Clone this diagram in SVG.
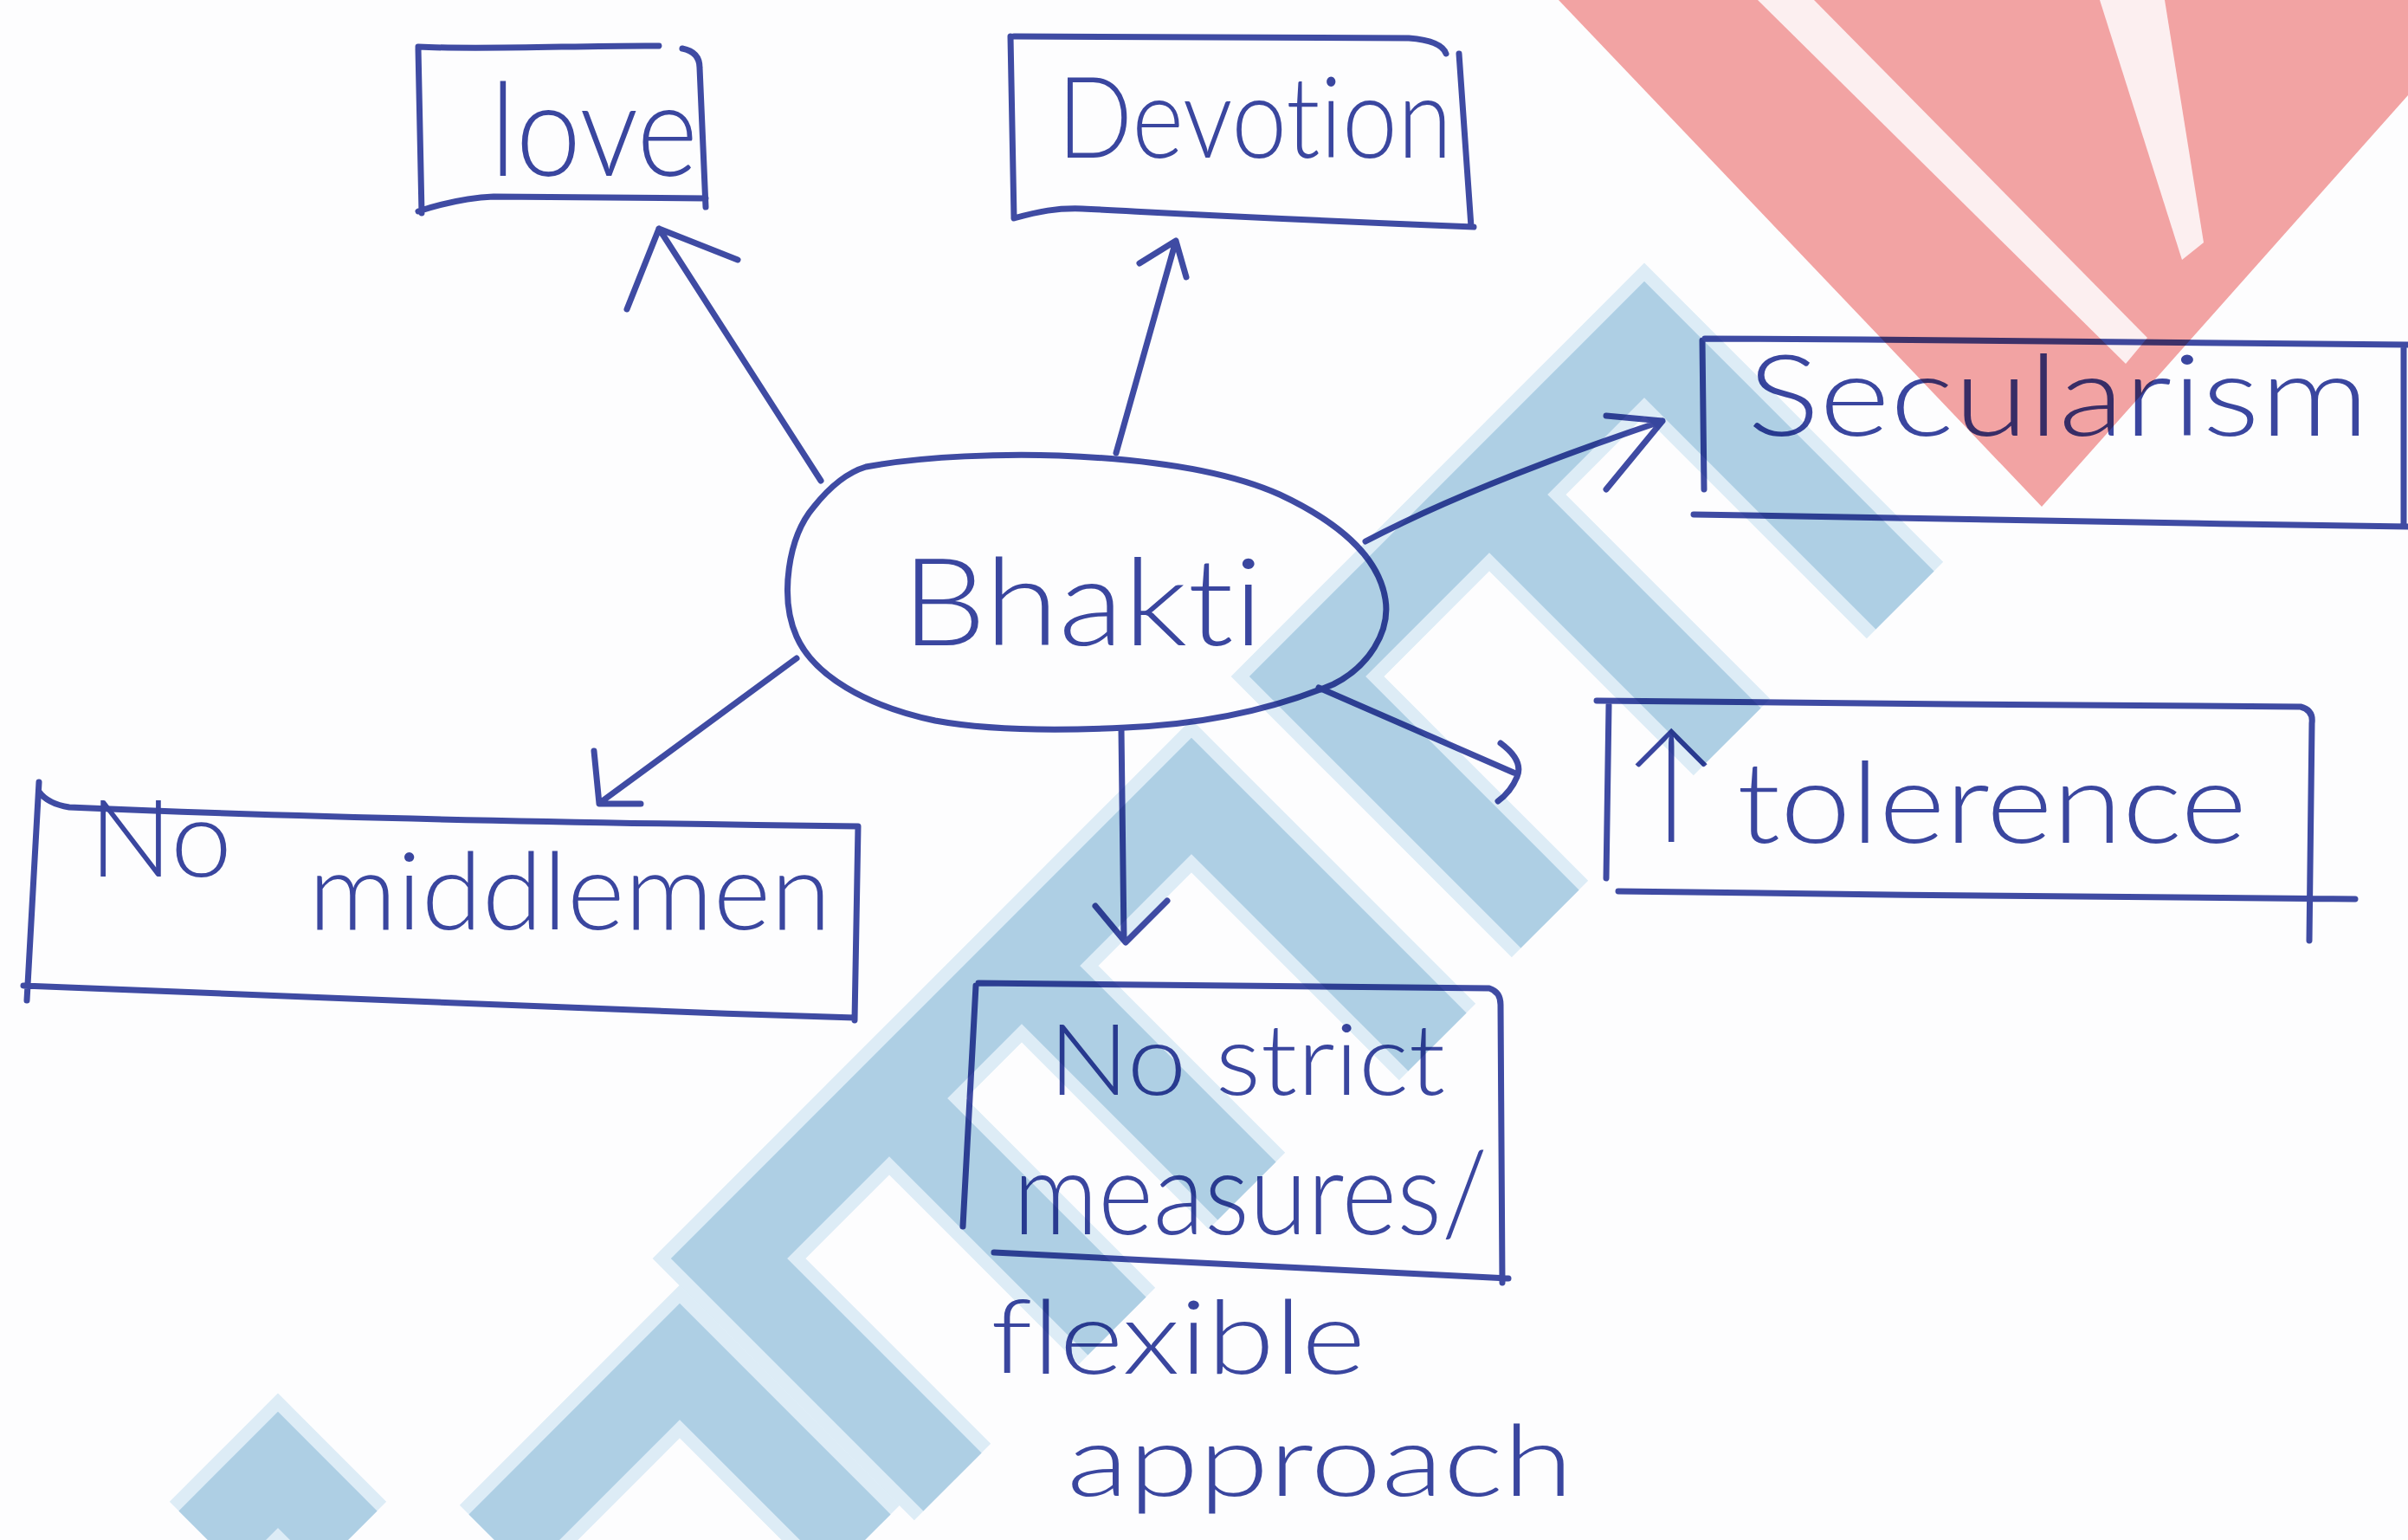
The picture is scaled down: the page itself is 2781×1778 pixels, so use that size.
<svg xmlns="http://www.w3.org/2000/svg" width="2781" height="1778" viewBox="0 0 2781 1778">
  <style>
    .ink { fill: none; stroke: #3f4ba3; stroke-width: 7; stroke-linecap: round; stroke-linejoin: round; }
    .label { font-family: Lato, "Liberation Sans", Arial, sans-serif; font-weight: 300; fill: #3a469f; font-variant-ligatures: none; }
    .band { fill: none; stroke: #a8cce3; stroke-width: 95; stroke-linejoin: miter; stroke-linecap: butt; }
    .halo { fill: none; stroke: #dcedf7; stroke-width: 125; stroke-linejoin: miter; stroke-linecap: butt; }
  </style>

  <rect x="0" y="0" width="2781" height="1778" fill="#fdfdfe"/>

  <!-- central idea -->
  <g id="node-bhakti">
    <path class="ink" d="M1000,539 C1070,526 1160,524 1223,526 C1330,530 1420,545 1478,571 C1540,600 1592,640 1600,692 C1606,730 1580,770 1540,790 C1480,815 1400,836 1300,840 C1220,844 1140,843 1080,832 C1000,815 940,780 920,735 C900,690 910,620 940,585 C960,560 980,545 1000,539 Z"/>
    <text class="label" x="1041" y="745" font-size="140" textLength="418" lengthAdjust="spacingAndGlyphs">Bhakti</text>
  </g>

  <g id="node-love">
    <path class="ink" d="M483,56 L487,246 M483,54 C560,58 680,52 761,53 M788,56 Q808,60 808,78 L815,239 M483,244 C520,232 545,228 570,227 L815,229"/>
    <text class="label" x="566" y="203" font-size="150" textLength="240" lengthAdjust="spacingAndGlyphs">love</text>
  </g>

  <g id="node-devotion">
    <path class="ink" d="M1167,42 L1171,252 M1171,42 C1350,43 1500,44 1627,44 Q1665,47 1670,62 M1685,62 L1699,262 M1171,252 C1200,244 1220,240 1250,241 C1350,246 1450,252 1702,262"/>
    <text class="label" x="1221" y="182" font-size="130" textLength="456" lengthAdjust="spacingAndGlyphs">Devotion</text>
  </g>

  <g id="node-secularism">
    <path class="ink" d="M1966,393 L1968,565 M1969,391 C2250,392 2550,396 2781,398 M2776,398 L2776,607 M1956,594 C2200,598 2500,604 2781,608"/>
    <text class="label" x="2018" y="503" font-size="130" textLength="718" lengthAdjust="spacingAndGlyphs">Secularism</text>
  </g>

  <g id="node-tolerance">
    <path class="ink" d="M1844,809 C2100,812 2400,814 2657,816 Q2672,820 2670,835 L2667,1086 M1858,814 L1855,1014 M1869,1029 C2150,1033 2450,1036 2720,1038"/>
    <text class="label" x="1874" y="955" font-size="150" font-family="'DejaVu Sans', sans-serif">↑</text>
    <text class="label" x="2006" y="973" font-size="130" textLength="589" lengthAdjust="spacingAndGlyphs">tolerence</text>
  </g>

  <g id="node-middlemen">
    <path class="ink" d="M45,903 L31,1155 M45,914 Q55,928 80,932 C300,942 650,950 991,954 L987,1178 M27,1138 C300,1150 650,1165 987,1175"/>
    <text class="label" font-size="125"><tspan x="103" y="1012" textLength="165" lengthAdjust="spacingAndGlyphs">No</tspan><tspan x="356" y="1073" textLength="604" lengthAdjust="spacingAndGlyphs">middlemen</tspan></text>
  </g>

  <g id="node-flexible">
    <path class="ink" d="M1130,1135 C1350,1137 1550,1139 1720,1141 Q1733,1145 1733,1160 L1735,1481 M1127,1138 L1112,1416 M1148,1446 C1350,1455 1550,1466 1742,1476"/>
    <text class="label" x="1211" y="1264" font-size="115" textLength="458" lengthAdjust="spacingAndGlyphs">No strict</text>
    <text class="label" x="1170" y="1425" font-size="135" textLength="548" lengthAdjust="spacingAndGlyphs">measures/</text>
    <text class="label" x="1144" y="1586" font-size="118" textLength="433" lengthAdjust="spacingAndGlyphs">flexible</text>
    <text class="label" x="1232" y="1727" font-size="115" textLength="585" lengthAdjust="spacingAndGlyphs">approach</text>
  </g>

  <!-- arrows leaving the central idea -->
  <g id="connectors">
    <path class="ink" d="M948,555 L761,264 M724,357 L761,264 L852,300"/>
    <path class="ink" d="M1289,523 L1358,278 M1316,304 L1358,278 L1370,320"/>
    <path class="ink" d="M1577,625 Q1700,560 1920,486 M1855,480 L1920,486 L1855,565"/>
    <path class="ink" d="M1523,794 L1748,892 M1733,858 Q1760,878 1752,897 Q1745,914 1730,925"/>
    <path class="ink" d="M1295,842 L1298,1085 M1265,1046 L1300,1088 L1348,1040"/>
    <path class="ink" d="M920,760 L694,926 M686,867 L692,928 L740,928"/>
  </g>

  <!-- translucent watermark laid over the page -->
  <g id="watermark" style="mix-blend-mode: multiply">
    <g opacity="0.9">
      <path class="halo" d="M2200,693 L1899,392 L1510,781 L1790,1061 M1720,571 L2000,851"/>
      <path class="halo" d="M1660,1203 L1376,919 L842,1453 L1100,1711 M1180,1115 L1440,1375 M1027,1268 L1290,1531"/>
      <path class="halo" d="M575,1782 L785,1572 L995,1782 M240,1778 L321,1697 L402,1778"/>
      <path class="band" d="M2200,693 L1899,392 L1510,781 L1790,1061 M1720,571 L2000,851"/>
      <path class="band" d="M1660,1203 L1376,919 L842,1453 L1100,1711 M1180,1115 L1440,1375 M1027,1268 L1290,1531"/>
      <path class="band" d="M575,1782 L785,1572 L995,1782 M240,1778 L321,1697 L402,1778"/>
    </g>
    <path d="M1800,0 L2358,585 L2781,110 L2781,0 Z" fill="#f4a4a4"/>
    <path d="M2030,0 L2095,0 L2480,390 L2455,420 Z" fill="#ffffff" opacity="0.85"/>
    <path d="M2425,0 L2500,0 L2545,280 L2520,300 Z" fill="#ffffff" opacity="0.85"/>
  </g>
</svg>
